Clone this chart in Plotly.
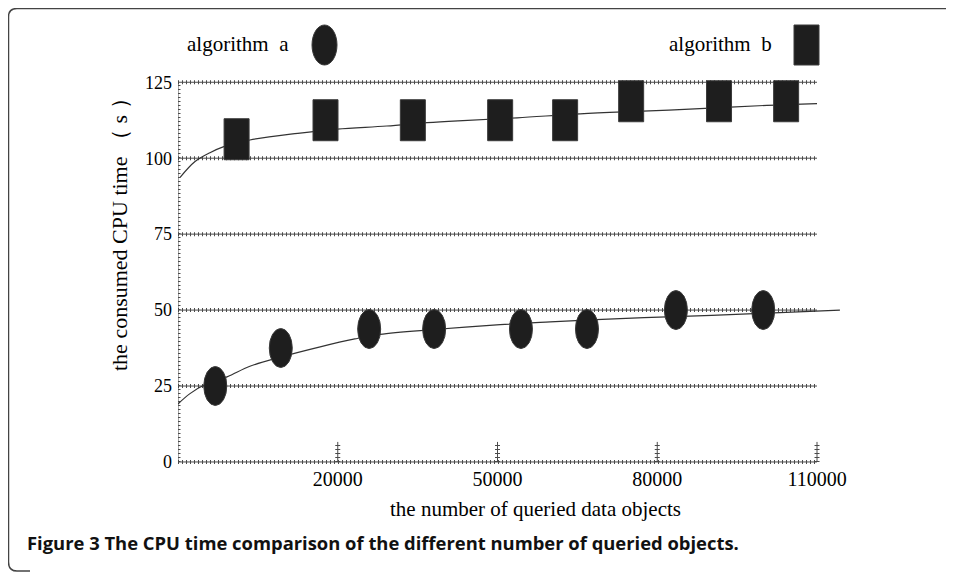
import plotly.graph_objects as go

# ---------------- data ----------------
a_x = [-3000, 9300, 25900, 38100, 54400, 66800, 83500, 99900]
a_y = [25, 37.5, 43.75, 43.75, 43.75, 43.75, 50, 50]
b_x = [1000, 17700, 34100, 50500, 62700, 75100, 91600, 104200]
b_y = [106.25, 112.5, 112.5, 112.5, 112.5, 118.75, 118.75, 118.75]

fit_a_x = [-10000, -7750, -4900, -800, 3500, 9200, 16700, 23200, 27900, 38100,
           50500, 59900, 73000, 86100, 99300, 114300]
fit_a_y = [19.1, 22.5, 25.5, 28.0, 31.5, 34.5, 37.9, 40.5, 42.0, 43.6,
           45.2, 46.1, 47.2, 48.0, 48.9, 50.0]
fit_b_x = [-9600, -6800, -4000, -1400, 3500, 12500, 19900, 29200, 36800, 43500,
           53700, 65500, 77300, 88000, 100600, 110000]
fit_b_y = [93.7, 98.9, 101.8, 103.8, 106.0, 108.2, 109.6, 110.6, 111.7, 112.4,
           113.3, 114.6, 115.5, 116.3, 117.4, 118.0]

y_ticks = [0, 25, 50, 75, 100, 125]
x_ticks = [20000, 50000, 80000, 110000]
x_tick_labels = ["20000", "50000", "80000", "110000"]
x_start = -10000
x_end_grid = 110000

legend_names = ["algorithm\u00a0\u00a0a", "algorithm\u00a0\u00a0b"]
x_title = "the number of queried data objects"
y_title = "the consumed CPU time \uff08 s \uff09"
caption = "Figure 3 The CPU time comparison of the different number of queried objects."

# ---------------- layout geometry ----------------
# the page body adds an 8px margin, so the figure is 8px smaller than the window
OFF = 8
W, H = 954 - OFF, 572 - OFF
ML, MR, MT, MB = 170, 104, 65, 107
PW = W - ML - MR
PH = H - MT - MB


def px(xp):
    """reference-window x pixel -> paper x"""
    return (xp - OFF - ML) / PW


def py(yp):
    """reference-window y pixel -> paper y"""
    return (H - MB - (yp - OFF)) / PH


SERIF = "Liberation Serif, Times New Roman, serif"
INK = "#1e1e1e"
GRID = "#4a4a4a"

fig = go.Figure()

fig.add_trace(go.Scatter(x=fit_a_x, y=fit_a_y, mode="lines", line_shape="spline",
                         line=dict(color="#333333", width=1.2), name="fit a",
                         hoverinfo="skip"))
fig.add_trace(go.Scatter(x=fit_b_x, y=fit_b_y, mode="lines", line_shape="spline",
                         line=dict(color="#333333", width=1.2), name="fit b",
                         hoverinfo="skip"))

shapes = []
# horizontal ruled grid lines (with little tick marks)
for yv in y_ticks:
    shapes.append(dict(type="line", xref="x", yref="y", x0=x_start, x1=x_end_grid,
                       y0=yv, y1=yv, line=dict(color=GRID, width=1), layer="below"))
    shapes.append(dict(type="line", xref="x", yref="y", x0=x_start, x1=x_end_grid,
                       y0=yv, y1=yv, line=dict(color=GRID, width=4, dash="1px,3px"),
                       layer="below"))
# vertical axis ruler
shapes.append(dict(type="line", xref="x", yref="y", x0=x_start, x1=x_start,
                   y0=0, y1=y_ticks[-1], line=dict(color=GRID, width=1), layer="below"))
shapes.append(dict(type="line", xref="x", yref="y", x0=x_start, x1=x_start,
                   y0=0, y1=y_ticks[-1], line=dict(color=GRID, width=5, dash="1px,3px"),
                   layer="below"))
# x tick marks
for xv in x_ticks:
    shapes.append(dict(type="line", xref="x", yref="y", x0=xv, x1=xv, y0=0, y1=6.6,
                       line=dict(color=GRID, width=1), layer="below"))
    shapes.append(dict(type="line", xref="x", yref="y", x0=xv, x1=xv, y0=0, y1=6.6,
                       line=dict(color=GRID, width=5, dash="1px,3px"), layer="below"))

# data markers: ellipses (algorithm a) and tall rectangles (algorithm b)
for xv, yv in zip(a_x, a_y):
    shapes.append(dict(type="circle", xref="x", yref="y", xsizemode="pixel",
                       ysizemode="pixel", xanchor=xv, yanchor=yv,
                       x0=-11.5, x1=11.5, y0=-19.5, y1=19.5,
                       fillcolor=INK, line=dict(color="#3a3a3a", width=1)))
for xv, yv in zip(b_x, b_y):
    shapes.append(dict(type="rect", xref="x", yref="y", xsizemode="pixel",
                       ysizemode="pixel", xanchor=xv, yanchor=yv,
                       x0=-12.5, x1=12.5, y0=-20.5, y1=20.5,
                       fillcolor=INK, line=dict(color="#3a3a3a", width=1)))

# legend markers
shapes.append(dict(type="circle", xref="paper", yref="paper",
                   x0=px(312), x1=px(337), y0=py(65), y1=py(25),
                   fillcolor=INK, line=dict(color="#3a3a3a", width=1)))
shapes.append(dict(type="rect", xref="paper", yref="paper",
                   x0=px(794), x1=px(819), y0=py(65), y1=py(25),
                   fillcolor=INK, line=dict(color="#3a3a3a", width=1)))

# outer figure frame (left/top with rounded corners)
frame = (f"M {px(954)} {py(8.5)} L {px(17)} {py(8.5)} Q {px(8.5)} {py(8.5)} {px(8.5)} {py(17)} "
         f"L {px(8.5)} {py(562)} Q {px(8.5)} {py(571)} {px(17)} {py(571)} L {px(30)} {py(571)}")
shapes.append(dict(type="path", xref="paper", yref="paper", path=frame,
                   line=dict(color="#444444", width=1.5)))

annotations = [
    dict(text=legend_names[0], xref="paper", yref="paper", x=px(291), y=py(44),
         xanchor="right", yanchor="middle", showarrow=False,
         font=dict(family=SERIF, size=21, color="black")),
    dict(text=legend_names[1], xref="paper", yref="paper", x=px(774), y=py(44),
         xanchor="right", yanchor="middle", showarrow=False,
         font=dict(family=SERIF, size=21, color="black")),
    dict(text=y_title, xref="paper", yref="paper", x=px(119), y=py(229),
         xanchor="center", yanchor="middle", textangle=-90, showarrow=False,
         font=dict(family=SERIF, size=22, color="black")),
    dict(text=x_title, xref="paper", yref="paper", x=px(535), y=py(509),
         xanchor="center", yanchor="middle", showarrow=False,
         font=dict(family=SERIF, size=21, color="black")),
    dict(text="<b>" + caption + "</b>", xref="paper", yref="paper", x=px(25), y=py(542),
         xanchor="left", yanchor="middle", showarrow=False,
         font=dict(family="Open Sans, Noto Sans, sans-serif", size=18.4, color="#111111")),
]

fig.update_layout(
    width=W, height=H,
    margin=dict(l=ML, r=MR, t=MT, b=MB, pad=0),
    paper_bgcolor="white", plot_bgcolor="white",
    showlegend=False,
    shapes=shapes,
    annotations=annotations,
    xaxis=dict(range=[x_start, x_start + PW * 187.79], showgrid=False, zeroline=False,
               showline=False, ticks="", tickvals=x_ticks, ticktext=x_tick_labels,
               tickfont=dict(family=SERIF, size=20, color="black"),
               ticklabelstandoff=0, fixedrange=True),
    yaxis=dict(range=[-1, -1 + PH / 3.0376], showgrid=False, zeroline=False,
               showline=False, ticks="", tickvals=y_ticks,
               tickfont=dict(family=SERIF, size=18, color="black"),
               ticklabelstandoff=5, fixedrange=True),
)

fig.write_html("out.html")
